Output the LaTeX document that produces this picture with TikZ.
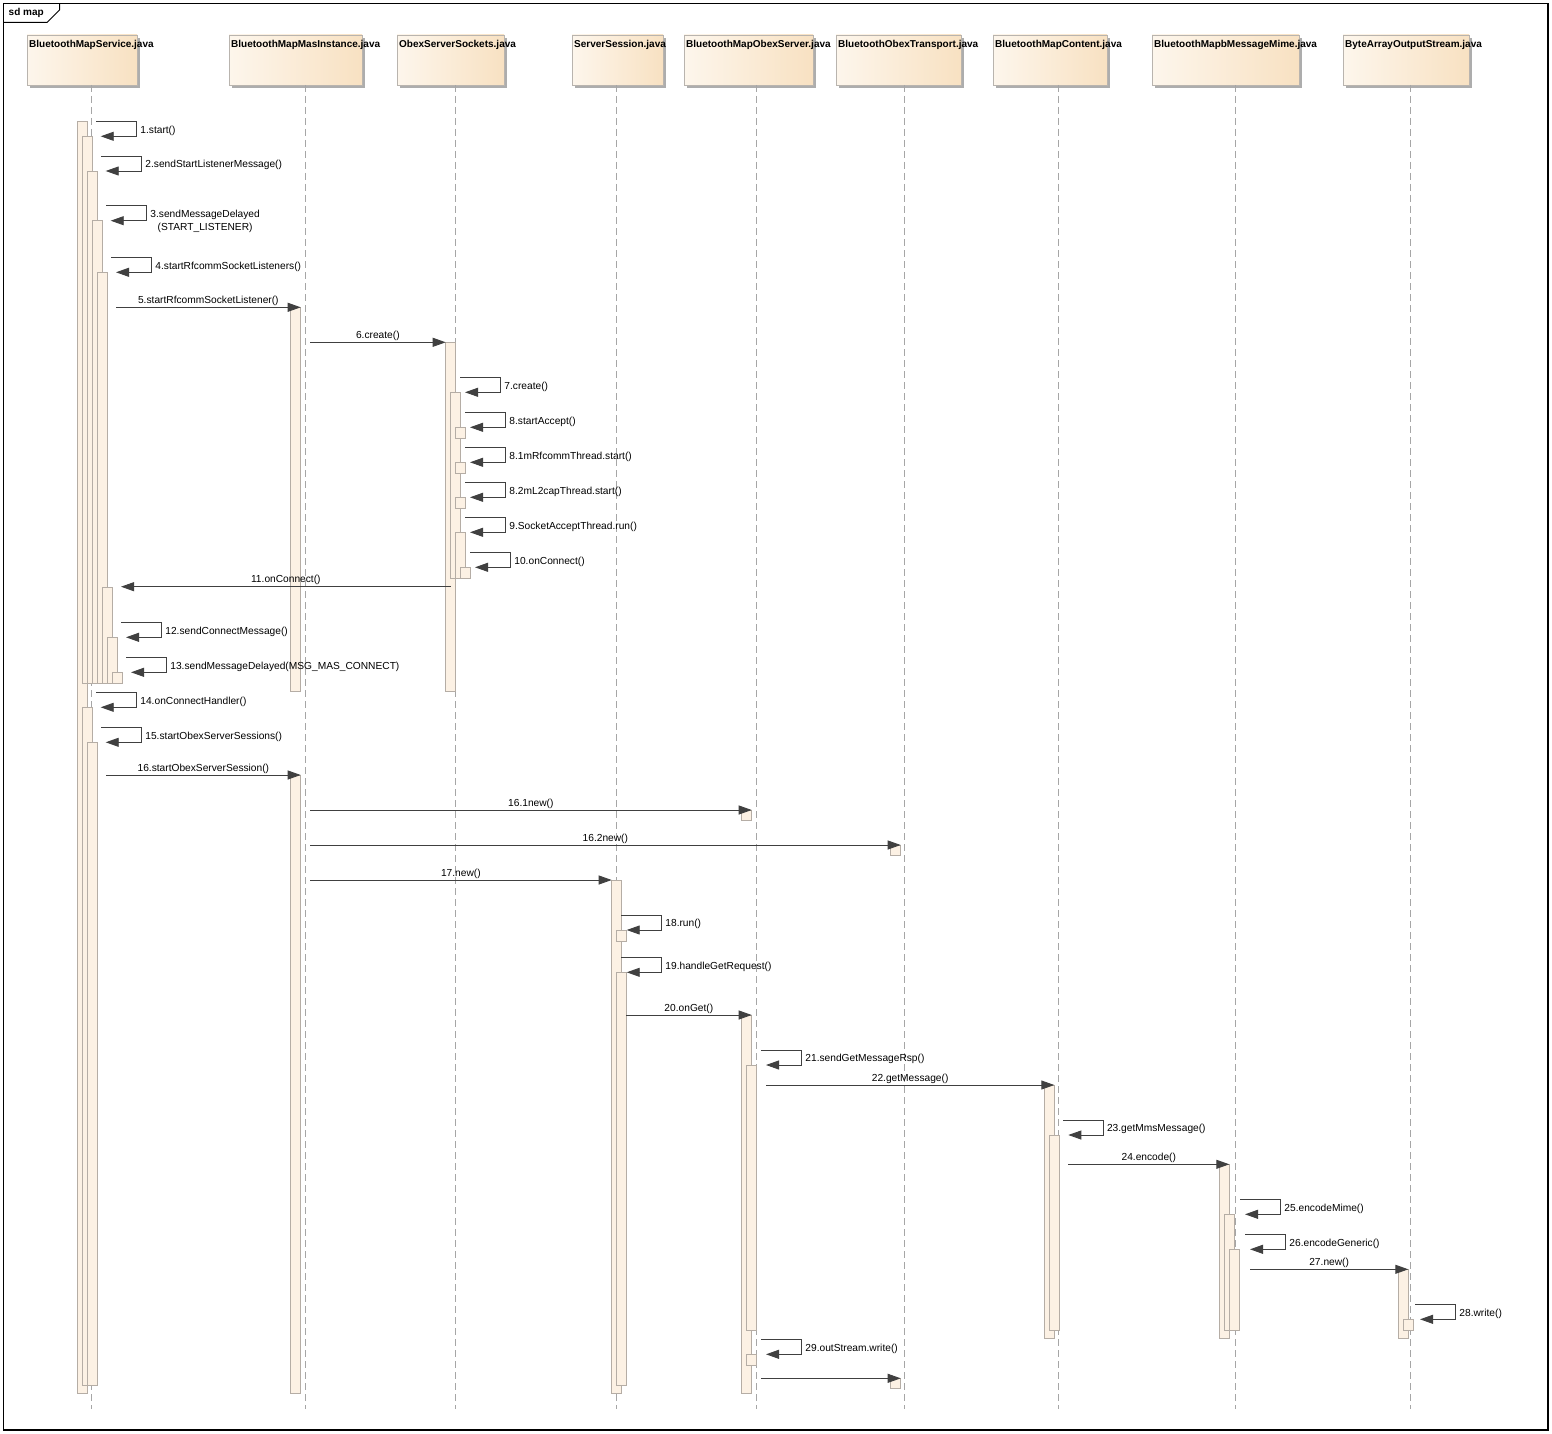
\documentclass[tikz,border=0pt]{standalone}
\usepackage{fontspec}
\setmainfont{Liberation Sans}
\usetikzlibrary{arrows.meta}
\definecolor{barfill}{HTML}{FCF1E4}
\definecolor{barline}{HTML}{B5ADA5}
\definecolor{hdrL}{HTML}{FDF6EC}
\definecolor{hdrR}{HTML}{F8E1C2}
\definecolor{hdrline}{HTML}{B9B4AE}
\definecolor{msgcol}{HTML}{404040}
\definecolor{lifecol}{HTML}{A6A6A6}
\definecolor{shadowcol}{HTML}{ADADAD}
\tikzset{
  act/.style={fill=barfill,draw=barline,line width=0.8pt},
  msg/.style={draw=msgcol,line width=0.9pt,-{Triangle[length=13pt,width=9pt]}},
  lbl/.style={inner sep=0pt,font=\fontsize{10.2}{12}\selectfont,text=black},
  hdrtxt/.style={inner sep=0pt,font=\bfseries\fontsize{10}{12}\selectfont,text=black},
  hdr/.style={draw=hdrline,line width=0.8pt,left color=hdrL,right color=hdrR},
  life/.style={draw=lifecol,line width=0.8pt,dash pattern=on 7pt off 4pt},
}
\newcommand\hdrbox[5]{%
  \fill[shadowcol] (#2+3,38) rectangle (#3+3,88);
  \draw[hdr] (#2,35) rectangle (#3,85);
  \node[hdrtxt,anchor=west] (#1) at (#2+2,45) {#4};
  \coordinate (#1top) at (#5,85);
  \coordinate (#1bot) at (#5,1408.5);
}
\newcommand\actbox[4]{\draw[act] (#1,#3) rectangle (#2,#4);}
\newcommand\selfmsg[7]{%
  \coordinate (#1s) at (#2,#4);
  \coordinate (#1r) at (#3,#4);
  \coordinate (#1b) at (#3,#5);
  \coordinate (#1t) at (#6,#5);
  \draw[msg] (#1s) -- (#1r) -- (#1b) -- (#1t);
  \node[lbl,anchor=base west] (#1l) at (#3+3.5,{(#4+#5)/2+4.3}) {#7};
}
\newcommand\callmsg[5]{%
  \coordinate (#1s) at (#2,#4);
  \coordinate (#1e) at (#3,#4);
  \draw[msg] (#1s) -- (#1e);
  \node[lbl,anchor=base] (#1l) at ({(#2+#3)/2},#4-3.8) {#5};
}
\begin{document}
\begin{tikzpicture}[x=1pt,y=-1pt]
\useasboundingbox (0,0) rectangle (1552,1434);
\fill[white] (0,0) rectangle (1552,1434);
% frame
\draw[line width=1.2pt] (3.3,3.3) rectangle (1548,1430);
\draw[line width=1pt] (3.3,22.5) -- (47,22.5) -- (59.5,10) -- (59.5,3.3);
\node[hdrtxt,anchor=west] (title) at (8.5,13) {sd map};
% headers
\hdrbox{h1}{27}{137}{BluetoothMapService.java}{91}
\hdrbox{h2}{229}{362}{BluetoothMapMasInstance.java}{305}
\hdrbox{h3}{397}{504}{ObexServerSockets.java}{455.7}
\hdrbox{h4}{572}{663}{ServerSession.java}{616.7}
\hdrbox{h5}{684}{813}{BluetoothMapObexServer.java}{756}
\hdrbox{h6}{836}{961}{BluetoothObexTransport.java}{904}
\hdrbox{h7}{993}{1107}{BluetoothMapContent.java}{1058.3}
\hdrbox{h8}{1152}{1299}{BluetoothMapbMessageMime.java}{1235}
\hdrbox{h9}{1343}{1469}{ByteArrayOutputStream.java}{1410}
% lifelines
\foreach \h in {h1,h2,h3,h4,h5,h6,h7,h8,h9}{\draw[life] (\h top) -- (\h bot);}
% activation bars
\actbox{77.3}{87.3}{121.7}{1393.3}
\actbox{82.3}{92.3}{136.3}{683.3}
\actbox{87.3}{97.3}{171}{683.3}
\actbox{92.3}{102.3}{220.7}{683.3}
\actbox{97.3}{107.3}{272.3}{683.3}
\actbox{102.3}{112.3}{587.7}{683.3}
\actbox{107.3}{117.3}{637.3}{683.3}
\actbox{112.3}{122.3}{672.3}{683.3}
\actbox{82.3}{92.3}{707.3}{1385.3}
\actbox{87.3}{97.3}{742.3}{1385.3}
\actbox{290}{300.7}{307.3}{691}
\actbox{290}{300.7}{775}{1393.3}
\actbox{445.7}{455.7}{342.3}{691}
\actbox{450.7}{460.7}{392.3}{578.3}
\actbox{455.7}{465.7}{427.3}{438.3}
\actbox{455.7}{465.7}{462.3}{473.3}
\actbox{455.7}{465.7}{497.3}{508.3}
\actbox{455.7}{465.7}{532.3}{578.3}
\actbox{460.7}{470.7}{567.3}{578.3}
\actbox{741}{751.7}{810}{820.7}
\actbox{890}{900.7}{845}{855.7}
\actbox{611.7}{621.7}{880}{1393.3}
\actbox{616}{626}{930}{941}
\actbox{616}{626}{972.3}{1385.3}
\actbox{741.7}{751.7}{1015}{1393.3}
\actbox{746.7}{756.7}{1065}{1330}
\actbox{746.7}{756.7}{1354.3}{1365.3}
\actbox{890}{900.7}{1378.3}{1388.7}
\actbox{1044.3}{1054.3}{1085}{1338.3}
\actbox{1049.3}{1059.3}{1135}{1330}
\actbox{1219.3}{1229.3}{1164.3}{1338.3}
\actbox{1224.3}{1234.3}{1214.3}{1330}
\actbox{1229.3}{1239.3}{1249.3}{1330}
\actbox{1398.3}{1408.3}{1269.3}{1338.3}
\actbox{1403.3}{1413.3}{1319.3}{1330}
% messages
\selfmsg{ma}{96}{136.7}{121.7}{136.3}{100.7}{1.start()}
\selfmsg{mb}{101}{141.7}{156.3}{171}{105.7}{2.sendStartListenerMessage()}
\selfmsg{mc}{106}{146.7}{205.7}{220.7}{110.7}{3.sendMessageDelayed}
\node[lbl,anchor=base] (mcl2) at ([yshift=-13pt]mcl.base) {(START\_LISTENER)};
\selfmsg{md}{111}{151.7}{257.3}{272.3}{116}{4.startRfcommSocketListeners()}
\callmsg{me}{116}{300.7}{307.3}{5.startRfcommSocketListener()}
\callmsg{mf}{310}{445.7}{342.3}{6.create()}
\selfmsg{mg}{460}{500.7}{377.3}{392.3}{465}{7.create()}
\selfmsg{mh}{465}{505.7}{412.3}{427.3}{470}{8.startAccept()}
\selfmsg{mi}{465}{505.7}{447.3}{462.3}{470}{8.1mRfcommThread.start()}
\selfmsg{mj}{465}{505.7}{482.3}{497.3}{470}{8.2mL2capThread.start()}
\selfmsg{mk}{465}{505.7}{517.3}{532.3}{470}{9.SocketAcceptThread.run()}
\selfmsg{ml}{470}{510.7}{552.3}{567.3}{475}{10.onConnect()}
\callmsg{mm}{450.7}{121}{586.7}{11.onConnect()}
\selfmsg{mn}{121}{161.7}{622.3}{637.3}{126}{12.sendConnectMessage()}
\selfmsg{mo}{126}{166.7}{657.3}{672.3}{131}{13.sendMessageDelayed(MSG\_MAS\_CONNECT)}
\selfmsg{mp}{96}{136.7}{692.3}{707.3}{100.7}{14.onConnectHandler()}
\selfmsg{mq}{101}{141.7}{727.3}{742.3}{105.7}{15.startObexServerSessions()}
\callmsg{mr}{106}{300.7}{775}{16.startObexServerSession()}
\callmsg{ms}{310}{751.7}{810}{16.1new()}
\callmsg{mt}{310}{900.7}{845}{16.2new()}
\callmsg{mu}{310}{611.7}{880}{17.new()}
\selfmsg{mv}{621}{661.7}{915}{930}{626.7}{18.run()}
\selfmsg{mw}{621}{661.7}{957.3}{972.3}{626.7}{19.handleGetRequest()}
\callmsg{mx}{626}{751.7}{1015}{20.onGet()}
\selfmsg{my}{761}{801.7}{1050}{1065}{766}{21.sendGetMessageRsp()}
\callmsg{mz}{766}{1054.3}{1085}{22.getMessage()}
\selfmsg{naa}{1063.3}{1103.3}{1120}{1135}{1068.3}{23.getMmsMessage()}
\callmsg{nab}{1068.3}{1229.3}{1164.3}{24.encode()}
\selfmsg{nac}{1240}{1280.7}{1199.3}{1214.3}{1245}{25.encodeMime()}
\selfmsg{nad}{1245}{1285.7}{1234.3}{1249.3}{1250}{26.encodeGeneric()}
\callmsg{nae}{1250}{1408.3}{1269.3}{27.new()}
\selfmsg{naf}{1415}{1455.7}{1304.3}{1319.3}{1420}{28.write()}
\selfmsg{nag}{761}{801.7}{1339.3}{1354.3}{766}{29.outStream.write()}
\coordinate (nahs) at (761,1378.3);
\coordinate (nahe) at (900.7,1378.3);
\draw[msg] (nahs) -- (nahe);
\end{tikzpicture}
\end{document}
